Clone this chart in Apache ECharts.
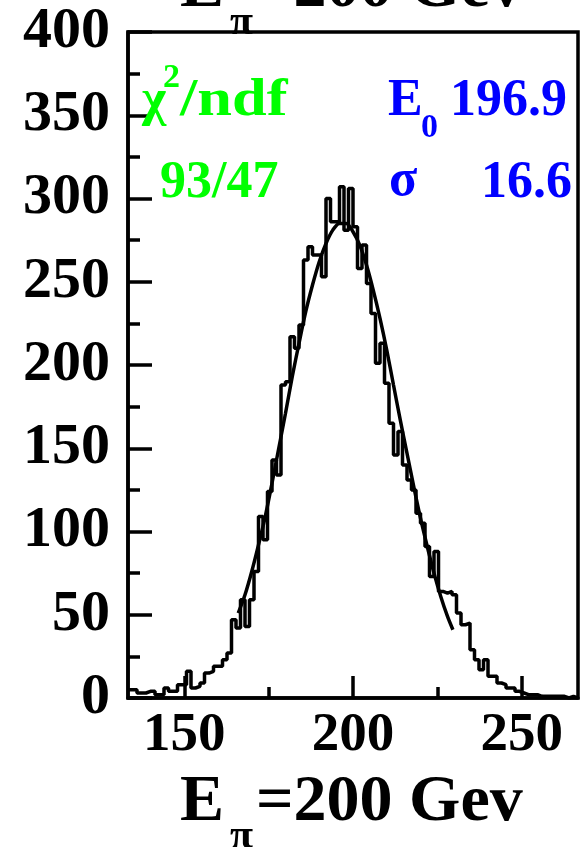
<!DOCTYPE html>
<html>
<head>
<meta charset="utf-8">
<script src="https://cdn.jsdelivr.net/npm/echarts@6/dist/echarts.min.js"></script>
<style>
html,body{margin:0;padding:0;background:#fff;}
#c{width:585px;height:847px;}
</style>
</head>
<body>
<div id="c"></div>
<script>
// Histogram definition (bin start, bin width) and counts
const binStart = 400 / 3;
const binWidth = 4 / 3;
const counts = [
  5,5,3,3,4,4,2,2,6,4,
  4,8,8,16,6,7,9,15,16,19,
  19,23,27,47,42,59,43,59,76,109,
  95,124,143,134,188,190,217,210,224,263,
  271,266,266,253,300,286,286,307,281,306,
  283,258,272,249,231,201,213,189,165,146,
  160,140,131,125,111,105,91,73,88,64,
  63,64,62,51,44,45,29,23,17,23,
  13,13,9,8,6,6,4,3,2,2,
  2,1,1,1,1,1,1,0,1,0
];
// Fit curve
const fitX = [166,168,170,172,174,176,178,180,182,184,186,188,190,192,194,196,198,200,202,204,206,208,210,212,214,216,218,220,222,224,226,228,229.6];
const fitY = [51,62,76,92,109,129,150,171,193,213,232,248,262,273,281,285,285,280,272,260,245,228,209,188,167,147,127,108,91,75,61,49,41];
// Axis ticks / labels
const xMajor = [150,200,250];
const xMinor = [175,225];
const yMin = 0, yMax = 400, yStep = 50;

const xMin = binStart;
const xMax = binStart + counts.length * binWidth;

const histPts = counts.map((v,i)=>[binStart + i*binWidth, v]);
histPts.push([xMax, counts[counts.length-1]]);

const SERIF = "'Liberation Serif','Times New Roman',serif";
function txt(x, y, s, size, color, opts){
  opts = opts || {};
  return {type:'text', x:x, y:y, z:100, scaleX: opts.sx || 1, scaleY: 1,
    style:{text:s, font:(opts.italic?'italic ':'')+'bold '+size+'px '+SERIF, fill:color, align:opts.align||'left', verticalAlign:'bottom'}};
}

const chart = echarts.init(document.getElementById('c'), null, {renderer:'canvas'});
chart.setOption({
  animation:false,
  backgroundColor:'#fff',
  grid:{left:128, right:7, top:32, bottom:149, show:true, borderColor:'#000', borderWidth:3.5, backgroundColor:'transparent'},
  xAxis:[{
    type:'value', min:xMin, max:xMax, position:'bottom',
    axisLine:{show:true, onZero:false, lineStyle:{color:'#000', width:3.5}},
    axisTick:{show:true, inside:true, length:22, customValues:xMajor, lineStyle:{color:'#000', width:3.5}},
    axisLabel:{show:true, customValues:xMajor, margin:10, color:'#000', fontFamily:SERIF, fontWeight:'bold', fontSize:55},
    splitLine:{show:false}
  },{
    type:'value', min:xMin, max:xMax, position:'bottom',
    axisLine:{show:false, onZero:false},
    axisTick:{show:true, inside:true, length:11, customValues:xMinor, lineStyle:{color:'#000', width:3.5}},
    axisLabel:{show:false},
    splitLine:{show:false}
  }],
  yAxis:{
    type:'value', min:yMin, max:yMax, interval:yStep,
    axisLine:{show:true, onZero:false, lineStyle:{color:'#000', width:3.5}},
    axisTick:{show:true, inside:true, length:24, lineStyle:{color:'#000', width:3.5}},
    minorTick:{show:true, splitNumber:2, length:12, lineStyle:{color:'#000', width:3.5}},
    axisLabel:{margin:18, color:'#000', fontFamily:SERIF, fontWeight:'bold', fontSize:58, padding:[14,0,0,0]},
    splitLine:{show:false}, minorSplitLine:{show:false}
  },
  series:[{
    type:'line', xAxisIndex:0, data:histPts, step:'end', symbol:'none', showSymbol:false,
    lineStyle:{color:'#000', width:3.5}, z:3
  },{
    type:'line', xAxisIndex:0, data:fitX.map((x,i)=>[x, fitY[i]]), smooth:0.3, symbol:'none', showSymbol:false,
    lineStyle:{color:'#000', width:3.5}, z:4
  }],
  graphic:[
    // annotation texts
    txt(142, 128, 'χ', 52, '#00ff00'),
    txt(163, 95, '2', 34, '#00ff00'),
    txt(180, 128, '/ndf', 52, '#00ff00', {sx:1.2}),
    txt(160, 210, '93/47', 52, '#00ff00'),
    txt(388, 128, 'E', 52, '#0000ff'),
    txt(421, 145, '0', 34, '#0000ff'),
    txt(567, 128, '196.9', 52, '#0000ff', {align:'right'}),
    txt(389, 208, 'σ', 52, '#0000ff'),
    txt(572, 210, '16.6', 52, '#0000ff', {align:'right'}),
    // bottom title
    txt(180, 836, 'E', 66, '#000'),
    txt(230, 858, 'π', 42, '#000'),
    txt(256, 836, '=200 Gev', 66, '#000'),
    // top title (cut off by the page edge)
    txt(180, 22, 'E', 66, '#000'),
    txt(230, 44, 'π', 42, '#000'),
    txt(256, 22, '=200 Gev', 66, '#000')
  ]
});
</script>
</body>
</html>
